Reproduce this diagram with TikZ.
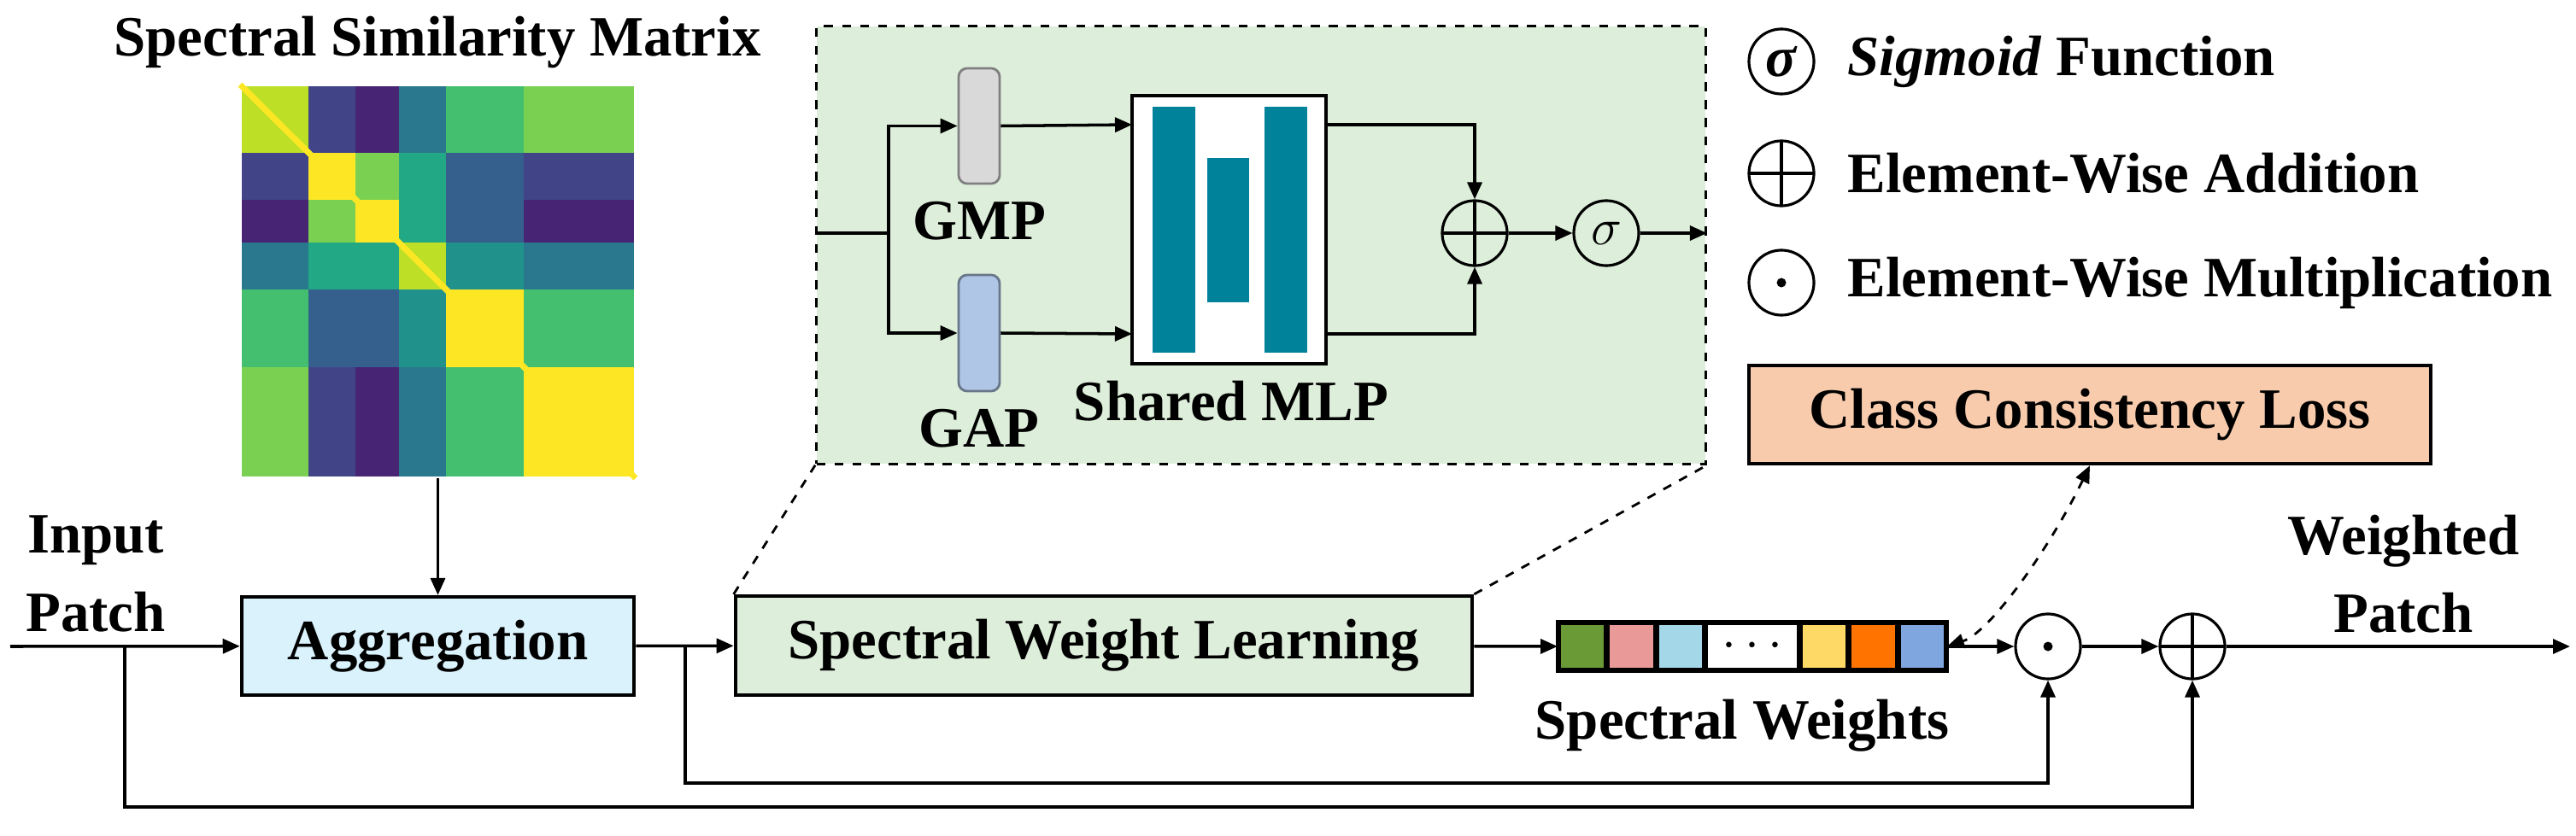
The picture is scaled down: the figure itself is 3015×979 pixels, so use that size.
\documentclass[tikz,border=0pt]{standalone}
\usepackage{fontspec}
\setmainfont{Liberation Serif}[BoldFont={Liberation Serif Bold},ItalicFont={Liberation Serif Italic},BoldItalicFont={Liberation Serif Bold Italic}]
\usetikzlibrary{arrows.meta,shapes.geometric}
\definecolor{v1}{HTML}{482475}\definecolor{v2}{HTML}{414487}\definecolor{v3}{HTML}{355F8D}
\definecolor{v4}{HTML}{2A788E}\definecolor{v5}{HTML}{21918C}\definecolor{v6}{HTML}{22A884}
\definecolor{v7}{HTML}{44BF70}\definecolor{v8}{HTML}{7AD151}\definecolor{v9}{HTML}{BDDF26}
\definecolor{v10}{HTML}{FDE725}
\definecolor{aggfill}{HTML}{DAF2FC}\definecolor{greenfill}{HTML}{DDEEDA}
\definecolor{peach}{HTML}{F8CBAD}\definecolor{teal}{HTML}{00829A}
\definecolor{gmpfill}{HTML}{D9D9D9}\definecolor{gapfill}{HTML}{AFC6E6}
\definecolor{c1}{HTML}{6A9A35}\definecolor{c2}{HTML}{EA9999}\definecolor{c3}{HTML}{A4D8E8}
\definecolor{c5}{HTML}{FFD966}\definecolor{c6}{HTML}{FF7300}\definecolor{c7}{HTML}{7FA6DE}
\begin{document}
\begin{tikzpicture}[x=0.01cm,y=-0.01cm,
  font=\fontsize{19}{22}\selectfont\bfseries,
  line width=1pt,
  >={Triangle[length=0.2cm,width=0.17cm]},
  box/.style={draw,line width=1.2pt,rectangle,inner sep=0pt},
  op/.style={draw,circle,minimum size=0.76cm,inner sep=0pt,line width=0.9pt},
  oplus/.style={op,path picture={\draw[line width=0.9pt] (path picture bounding box.north)--(path picture bounding box.south) (path picture bounding box.west)--(path picture bounding box.east);}},
  odot/.style={op,path picture={\fill (path picture bounding box.center) circle (0.055cm);}},
  lbl/.style={inner sep=0pt,align=center},
  pill/.style={draw,rounded corners=0.1cm,minimum width=0.48cm,inner sep=0pt,line width=0.8pt},
  bar/.style={fill=teal,inner sep=0pt,draw=none},
  cell/.style={draw,line width=1pt,minimum height=0.54cm,inner sep=0pt,anchor=west}
]
\useasboundingbox (0,0) rectangle (3015,979);
% heatmap
\node[minimum width=4.59cm,minimum height=4.57cm,inner sep=0pt] (mat) at (512.5,329.5) {};
\def\xb{{283,361,416,467,522,613,742}}
\def\yb{{101,179,234,284,339,430,558}}
\foreach \row [count=\i from 0] in {{9,2,1,4,7,8},{2,10,8,6,3,2},{1,8,10,6,3,1},{4,6,6,9,5,4},{7,3,3,5,10,7},{8,2,1,4,7,10}}{
  \foreach \c [count=\j from 0] in \row {
    \pgfmathsetmacro\xa{\xb[\j]}\pgfmathsetmacro\xe{\xb[\j+1]}
    \pgfmathsetmacro\ya{\yb[\i]}\pgfmathsetmacro\ye{\yb[\i+1]}
    \fill[v\c] (\xa,\ya) rectangle (\xe,\ye);
  }
}
\draw[v10,line width=2pt] (mat.north west) -- (mat.south east);
\node[lbl] (mtitle) at (512,50) {Spectral Similarity Matrix};
% main boxes
\node[box,fill=aggfill,minimum width=4.59cm,minimum height=1.15cm] (agg) at (512.5,756.5) {Aggregation};
\node[box,fill=greenfill,minimum width=8.62cm,minimum height=1.16cm] (swl) at (1292,756) {Spectral Weight Learning};
\coordinate (in) at (12,757);
\coordinate (b1) at (146,757);
\coordinate (b2) at (802,757);
\node[lbl] (inlbl) at (112,672) {Input\\[4pt]Patch};
\draw[->] (in) -- (agg);
\draw[->] (mat) -- (agg);
\draw[->] (agg) -- (swl);
% vector
\node[cell,fill=c1,minimum width=0.54cm] (v1) at (1823,757) {};
\node[cell,fill=c2,minimum width=0.54cm] (v2) at (v1.east) {};
\node[cell,fill=c3,minimum width=0.54cm] (v3) at (v2.east) {};
\node[cell,fill=white,minimum width=1.07cm] (v4) at (v3.east) {$\cdots$};
\node[cell,fill=c5,minimum width=0.54cm] (v5) at (v4.east) {};
\node[cell,fill=c6,minimum width=0.54cm] (v6) at (v5.east) {};
\node[cell,fill=c7,minimum width=0.54cm] (v7) at (v6.east) {};
\draw[line width=1.4pt] (v1.north west) rectangle (v7.south east);
\node[lbl] (swlbl) at (2039,850) {Spectral Weights};
\draw[->] (swl) -- (v1);
\node[odot] (mul) at (2397,757) {};
\node[oplus] (add) at (2566,757) {};
\coordinate (out) at (3008,757);
\draw[->] (v7) -- (mul);
\draw[->] (mul) -- (add);
\draw[->] (add) -- (out);
\draw[->] (b2) |- (2397,917) -- (mul);
\draw[->] (b1) |- (2566,945) -- (add);
\node[lbl] (wlbl) at (2813,672) {Weighted\\[4pt]Patch};
% class loss
\node[box,fill=peach,minimum width=7.98cm,minimum height=1.15cm] (cls) at (2446,485.5) {Class Consistency Loss};
\draw[<->,dashed,line width=0.8pt] (cls.south) .. controls (2400,640) and (2330,740) .. (v7.east);
% detail box
\node[draw,dashed,fill=greenfill,line width=0.9pt,minimum width=10.4cm,minimum height=5.12cm,inner sep=0pt] (det) at (1476,287) {};
\draw[dashed,line width=0.8pt] (swl.north west) -- (det.south west);
\draw[dashed,line width=0.8pt] (swl.north east) -- (det.south east);
\coordinate (din) at (956,273);
\coordinate (j) at (1040,273);
\node[pill,fill=gmpfill,draw=gray,minimum height=1.35cm] (gmp) at (1146,147.5) {};
\node[pill,fill=gapfill,draw=gapfill!60!black,minimum height=1.36cm] (gap) at (1146,390) {};
\node[lbl] (gmpl) at (1146,259) {GMP};
\node[lbl] (gapl) at (1146,502) {GAP};
\node[box,fill=white,minimum width=2.27cm,minimum height=3.14cm] (mlp) at (1438.5,269) {};
\node[bar,minimum width=0.5cm,minimum height=2.88cm] (bl) at (1374,269) {};
\node[bar,minimum width=0.49cm,minimum height=1.69cm] (bm) at (1437.5,269.5) {};
\node[bar,minimum width=0.5cm,minimum height=2.88cm] (br) at (1505,269) {};
\node[lbl] (mlpl) at (1441,470) {Shared MLP};
\draw (din) -- (j);
\draw[->] (j) |- (gmp.west);
\draw[->] (j) |- (gap.west);
\draw[->] (gmp.east) -- (1325,146);
\draw[->] (gap.east) -- (1325,391);
\node[oplus] (padd) at (1726,273) {};
\node[op,font=\fontsize{19}{22}\selectfont] (sig) at (1880,273) {$\sigma$};
\draw[->] (1552,146) -| (padd.north);
\draw[->] (1552,391) -| (padd.south);
\draw[->] (padd) -- (sig);
\draw[->] (sig) -- (det.east |- sig);
% legend
\node[op] (lg1) at (2085,72) {\textit{σ}};
\node[oplus] (lg2) at (2085,203) {};
\node[odot] (lg3) at (2085,331) {};
\node[lbl,anchor=west] (lt1) at (2161,72) {\textit{Sigmoid} Function};
\node[lbl,anchor=west] (lt2) at (2161,203) {Element-Wise Addition};
\node[lbl,anchor=west] (lt3) at (2161,331) {Element-Wise Multiplication};
\end{tikzpicture}
\end{document}
